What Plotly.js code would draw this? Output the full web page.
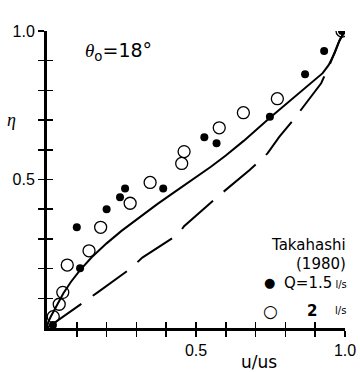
<!DOCTYPE html>
<html><head><meta charset="utf-8">
<script src="https://cdn.plot.ly/plotly-3.0.1.min.js"></script>
<style>html,body{margin:0;padding:0;background:#fff}</style>
</head><body><div id="c" style="width:360px;height:372px"></div>
<script>
// Takahashi (1980) data, Q = 1.5 l/s (filled)
const filledX = [0.02, 0.10, 0.111, 0.20, 0.245, 0.262, 0.39, 0.528, 0.569, 0.748, 0.866, 0.93, 0.99];
const filledY = [0.01, 0.339, 0.201, 0.40, 0.44, 0.47, 0.47, 0.642, 0.622, 0.711, 0.854, 0.933, 1.0];
// Q = 2 l/s (open)
const openX = [0.021, 0.041, 0.053, 0.068, 0.141, 0.18, 0.279, 0.346, 0.452, 0.46, 0.578, 0.659, 0.773, 0.99];
const openY = [0.038, 0.08, 0.12, 0.212, 0.26, 0.339, 0.42, 0.49, 0.554, 0.594, 0.674, 0.725, 0.772, 1.0];
// theoretical curves
const solidX = [0, 0.004, 0.012, 0.025, 0.04, 0.055, 0.08, 0.111, 0.15, 0.2, 0.25, 0.312, 0.37, 0.424, 0.49, 0.55, 0.6, 0.66, 0.748, 0.81, 0.87, 0.9, 0.925, 0.945, 0.965, 0.983, 1.0];
const solidY = [0, 0.02, 0.037, 0.06, 0.088, 0.117, 0.155, 0.195, 0.238, 0.285, 0.327, 0.375, 0.417, 0.455, 0.5, 0.543, 0.581, 0.63, 0.708, 0.76, 0.81, 0.835, 0.858, 0.885, 0.925, 0.972, 1.0];
const dashX = [0, 0.13, 0.17, 0.28, 0.32, 0.44, 0.46, 0.57, 0.63, 0.68, 0.74, 0.78, 0.83, 0.88, 0.92, 0.95, 0.98, 1.0];
const dashY = [0, 0.09, 0.12, 0.2, 0.237, 0.315, 0.343, 0.44, 0.49, 0.532, 0.588, 0.644, 0.705, 0.773, 0.824, 0.89, 0.965, 1.0];
const tickVals = [0.1,0.2,0.3,0.4,0.5,0.6,0.7,0.8,0.9,1.0];
const tickText = ['','','','','0.5','','','','','1.0'];

const traces = [
  {x: solidX, y: solidY, mode:'lines', line:{color:'#000', width:2}, hoverinfo:'skip'},
  {x: dashX, y: dashY, mode:'lines', line:{color:'#000', width:2, dash:'42px,14px'}, hoverinfo:'skip'},
  {x: openX, y: openY, mode:'markers', marker:{symbol:'circle-open', size:12, color:'#000', line:{width:1.3, color:'#000'}}},
  {x: filledX, y: filledY, mode:'markers', marker:{symbol:'circle', size:8, color:'#000'}},
  {x: [], y: [], xaxis:'x2', yaxis:'y2', mode:'markers'}
];
const fam = 'Liberation Sans, Arial, sans-serif';
const dj = 'DejaVu Sans, sans-serif';
const layout = {
  width:360, height:372,
  margin:{l:47, r:15, t:31, b:44},
  paper_bgcolor:'#fff', plot_bgcolor:'#fff',
  showlegend:false,
  font:{family:fam, color:'#000'},
  xaxis:{range:[0,1], showgrid:false, zeroline:false, showline:true, linewidth:3, linecolor:'#000',
    ticks:'outside', ticklen:6, tickwidth:1.5, tickcolor:'#000', tickvals:tickVals, ticktext:tickText,
    tickfont:{size:16, family:fam}, fixedrange:true, title:{text:''}},
  yaxis:{range:[0,1], showgrid:false, zeroline:false, showline:true, linewidth:3, linecolor:'#000',
    ticks:'outside', ticklen:6, tickwidth:1.5, tickcolor:'#000', tickvals:tickVals, ticktext:tickText,
    tickfont:{size:16, family:fam}, fixedrange:true, title:{text:''}},
  xaxis2:{range:[0,1], overlaying:'x', side:'bottom', showgrid:false, zeroline:false, showline:false,
    ticks:'inside', ticklen:6, tickwidth:1.5, tickcolor:'#000', tickvals:tickVals, showticklabels:false},
  yaxis2:{range:[0,1], overlaying:'y', side:'left', showgrid:false, zeroline:false, showline:false,
    ticks:'inside', ticklen:6, tickwidth:1.5, tickcolor:'#000', tickvals:tickVals, showticklabels:false},
  annotations:[
    {xref:'paper', yref:'paper', x:0.12, y:0.93, xanchor:'left', yanchor:'middle', showarrow:false,
     text:'<i><span style="font-family:Liberation Serif">θ</span></i><sub>o</sub>=18°', font:{size:19, family:dj}},
    {xref:'paper', x:-0.12, yref:'paper', y:0.70, xanchor:'center', yanchor:'middle', showarrow:false,
     text:'<i>η</i>', font:{size:18, family:'Liberation Serif, serif'}},
    {xref:'paper', yref:'paper', x:0.711, y:-0.114, xanchor:'center', yanchor:'middle', showarrow:false,
     text:'u/us', font:{size:17, family:dj}},
    {xref:'paper', yref:'paper', x:1.01, y:0.279, xanchor:'right', yanchor:'middle', showarrow:false,
     text:'Takahashi', font:{size:15, family:dj}},
    {xref:'paper', yref:'paper', x:1.01, y:0.214, xanchor:'right', yanchor:'middle', showarrow:false,
     text:'(1980)', font:{size:15, family:dj}},
    {xref:'paper', yref:'paper', x:0.745, y:0.152, xanchor:'center', yanchor:'middle', showarrow:false,
     text:'●', font:{size:13, family:dj}},
    {xref:'paper', yref:'paper', x:0.788, y:0.152, xanchor:'left', yanchor:'middle', showarrow:false,
     text:'Q=1.5<span style="font-size:10px"> l/s</span>', font:{size:15, family:dj}},
    {xref:'paper', yref:'paper', x:0.75, y:0.058, xanchor:'center', yanchor:'middle', showarrow:false,
     text:'○', font:{size:17, family:dj}},
    {xref:'paper', yref:'paper', x:0.889, y:0.058, xanchor:'center', yanchor:'middle', showarrow:false,
     text:'<b>2</b>', font:{size:15, family:dj}},
    {xref:'paper', yref:'paper', x:1.01, y:0.058, xanchor:'right', yanchor:'middle', showarrow:false,
     text:'l/s', font:{size:10, family:dj}}
  ]
};
Plotly.newPlot('c', traces, layout, {staticPlot:true, displayModeBar:false});
</script></body></html>
